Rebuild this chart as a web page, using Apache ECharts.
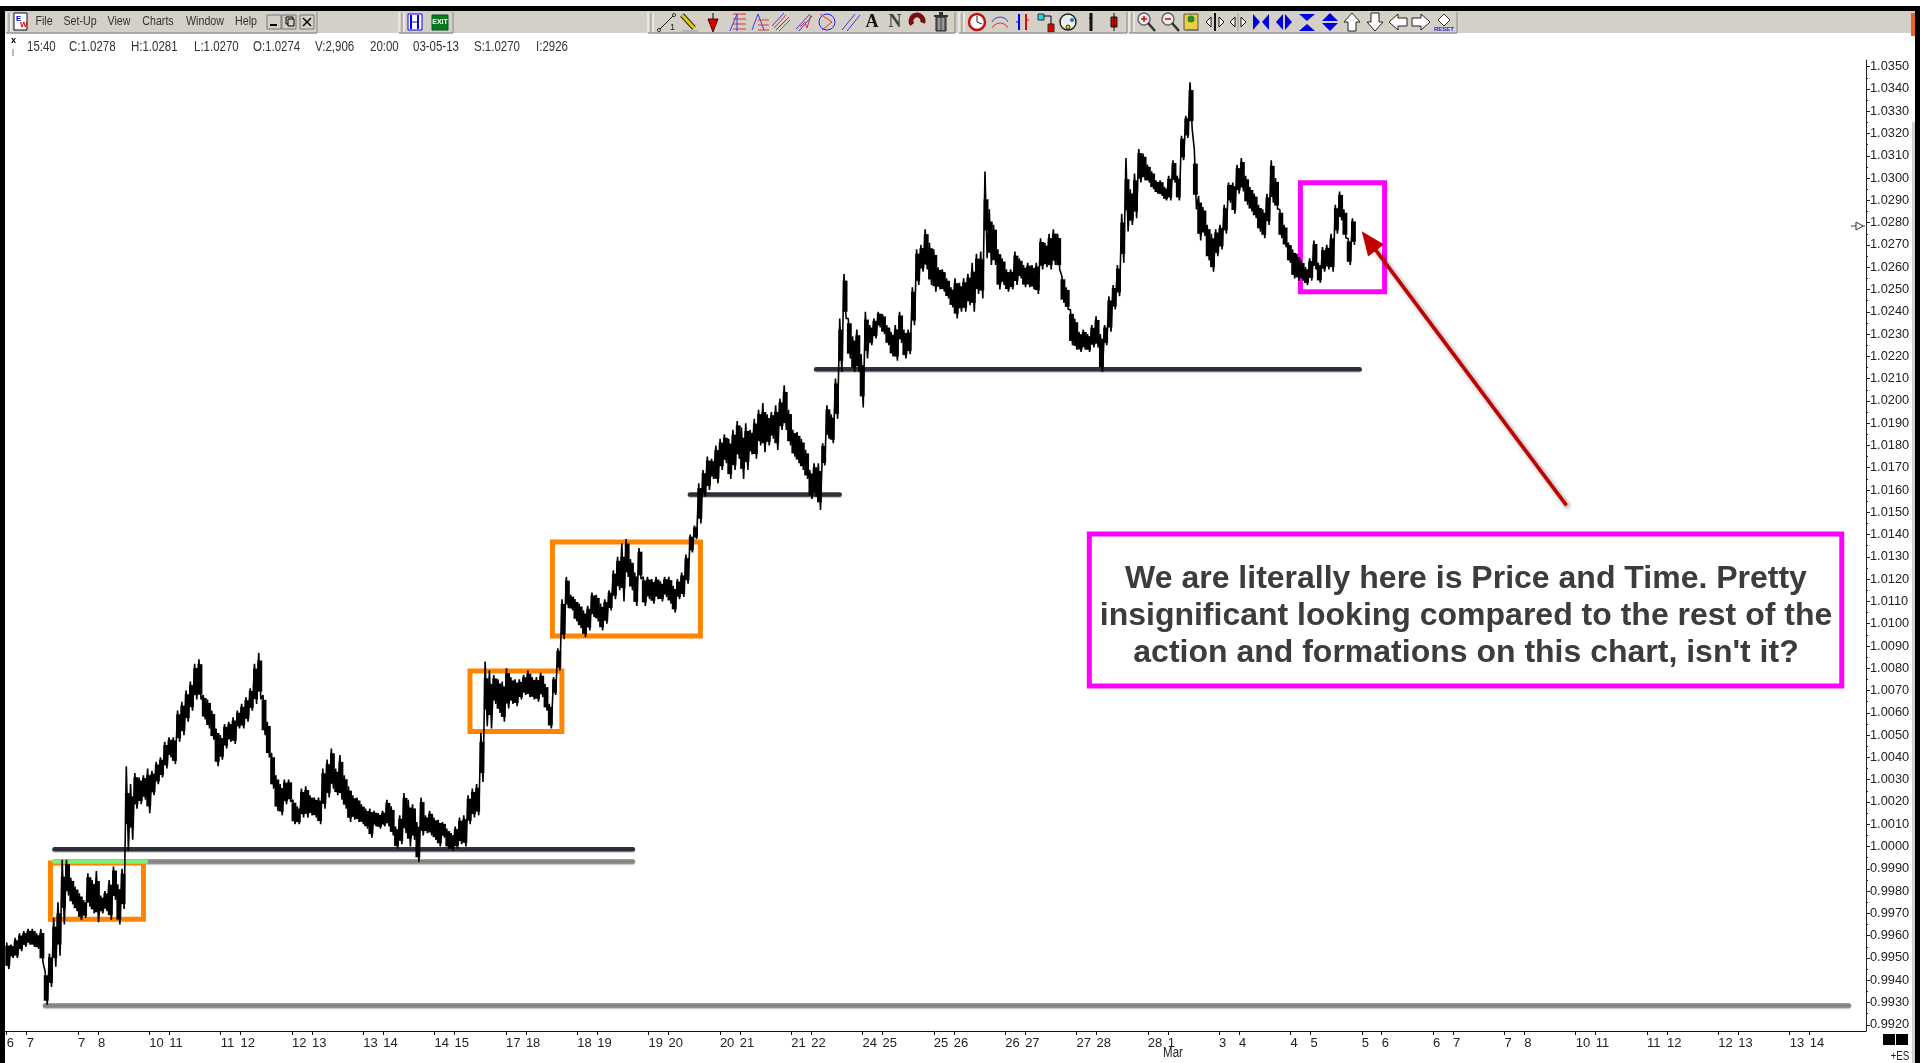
<!DOCTYPE html>
<html><head><meta charset="utf-8">
<style>html,body{margin:0;padding:0;background:#fff;overflow:hidden}#c{width:1920px;height:1063px}</style>
<script src="https://cdn.jsdelivr.net/npm/echarts@6/dist/echarts.min.js"></script>
</head><body><div id="c"></div>
<script>
// Time unit: trading days counted from the "7" tick; price in quote units.
const firstBarTime = -1.0;
const barStep = 0.0599;
const highs = [
.9957,.9956,.9959,.9961,.9962,.9963,.9963,.9961,.9963,.9944,
.9952,.9968,.9975,.9994,.9994,.9986,.9982,.9979,.9976,.9988,
.9985,.9989,.9978,.9980,.9985,.9991,.9983,.9990,1.0036,1.0028,
1.0033,1.0031,1.0032,1.0035,1.0034,1.0038,1.0040,1.0047,1.0049,1.0049,
1.0061,1.0065,1.0070,1.0074,1.0082,1.0084,1.0068,1.0066,1.0061,1.0053,
1.0050,1.0055,1.0056,1.0058,1.0061,1.0064,1.0067,1.0071,1.0082,1.0087,
1.0068,1.0056,1.0042,1.0032,1.0028,1.0030,1.0030,1.0021,1.0018,1.0026,
1.0027,1.0023,1.0022,1.0022,1.0035,1.0039,1.0044,1.0035,1.0041,1.0032,
1.0027,1.0023,1.0022,1.0019,1.0017,1.0017,1.0016,1.0015,1.0016,1.0021,
1.0018,1.0009,1.0014,1.0024,1.0021,1.0019,1.0011,1.0022,1.0014,1.0016,
1.0013,1.0012,1.0011,1.0008,1.0006,1.0009,1.0013,1.0014,1.0023,1.0026,
1.0028,1.0051,1.0083,1.0079,1.0077,1.0075,1.0074,1.0080,1.0076,1.0075,
1.0075,1.0077,1.0079,1.0076,1.0076,1.0078,1.0073,1.0064,1.0076,1.0089,
1.0111,1.0121,1.0113,1.0111,1.0109,1.0106,1.0108,1.0114,1.0113,1.0109,
1.0111,1.0115,1.0124,1.0130,1.0136,1.0138,1.0129,1.0123,1.0134,1.0121,
1.0121,1.0120,1.0121,1.0119,1.0121,1.0121,1.0117,1.0120,1.0123,1.0131,
1.0140,1.0144,1.0163,1.0169,1.0175,1.0174,1.0180,1.0183,1.0185,1.0183,
1.0187,1.0191,1.0188,1.0190,1.0187,1.0192,1.0196,1.0199,1.0194,1.0195,
1.0198,1.0201,1.0207,1.0196,1.0187,1.0186,1.0183,1.0178,1.0169,1.0172,
1.0172,1.0181,1.0198,1.0194,1.0210,1.0237,1.0257,1.0237,1.0229,1.0232,
1.0221,1.0240,1.0234,1.0237,1.0240,1.0239,1.0234,1.0231,1.0234,1.0240,
1.0232,1.0232,1.0251,1.0268,1.0270,1.0277,1.0271,1.0268,1.0260,1.0259,
1.0255,1.0251,1.0255,1.0253,1.0255,1.0257,1.0262,1.0266,1.0267,1.0303,
1.0286,1.0279,1.0268,1.0264,1.0259,1.0259,1.0267,1.0264,1.0261,1.0262,
1.0261,1.0262,1.0273,1.0271,1.0275,1.0277,1.0275,1.0256,1.0251,1.0241,
1.0237,1.0231,1.0232,1.0230,1.0234,1.0238,1.0230,1.0234,1.0247,1.0252,
1.0261,1.0284,1.0309,1.0295,1.0302,1.0313,1.0311,1.0306,1.0303,1.0299,
1.0299,1.0296,1.0301,1.0308,1.0301,1.0319,1.0328,1.0343,1.0313,1.0292,
1.0287,1.0279,1.0275,1.0277,1.0279,1.0288,1.0298,1.0298,1.0306,1.0309,
1.0301,1.0296,1.0293,1.0288,1.0286,1.0293,1.0308,1.0300,1.0286,1.0279,
1.0271,1.0268,1.0266,1.0263,1.0260,1.0264,1.0272,1.0262,1.0269,1.0270,
1.0275,1.0288,1.0294,1.0286,1.0273,1.0282];
const lows = [
.9945,.9950,.9950,.9953,.9955,.9956,.9955,.9954,.9948,.9929,
.9937,.9946,.9951,.9965,.9978,.9974,.9971,.9967,.9968,.9973,
.9970,.9966,.9970,.9971,.9967,.9976,.9965,.9972,.9998,1.0003,
1.0017,1.0019,1.0021,1.0015,1.0023,1.0028,1.0031,1.0035,1.0040,1.0037,
1.0047,1.0050,1.0056,1.0061,1.0066,1.0066,1.0057,1.0053,1.0048,1.0036,
1.0039,1.0044,1.0047,1.0046,1.0053,1.0053,1.0056,1.0061,1.0064,1.0066,
1.0050,1.0040,1.0026,1.0016,1.0014,1.0019,1.0020,1.0010,1.0010,1.0013,
1.0013,1.0014,1.0013,1.0010,1.0017,1.0022,1.0026,1.0023,1.0021,1.0017,
1.0011,1.0012,1.0011,1.0010,1.0008,1.0004,1.0009,1.0008,1.0009,1.0009,
1.0005,.9999,1.0001,1.0006,1.0000,1.0003,.9993,1.0005,1.0006,1.0005,
1.0003,1.0000,1.0004,.9999,.9998,.9999,1.0001,1.0000,1.0010,1.0013,
1.0014,1.0029,1.0054,1.0053,1.0064,1.0060,1.0056,1.0062,1.0064,1.0063,
1.0066,1.0068,1.0067,1.0066,1.0065,1.0067,1.0061,1.0053,1.0068,1.0079,
1.0093,1.0107,1.0106,1.0101,1.0098,1.0094,1.0097,1.0103,1.0101,1.0097,
1.0100,1.0106,1.0111,1.0115,1.0110,1.0121,1.0115,1.0108,1.0120,1.0108,
1.0111,1.0109,1.0111,1.0110,1.0112,1.0109,1.0105,1.0111,1.0112,1.0118,
1.0132,1.0138,1.0145,1.0157,1.0160,1.0165,1.0163,1.0169,1.0172,1.0165,
1.0169,1.0174,1.0165,1.0169,1.0176,1.0174,1.0180,1.0177,1.0180,1.0183,
1.0178,1.0187,1.0187,1.0180,1.0175,1.0172,1.0169,1.0165,1.0156,1.0157,
1.0151,1.0171,1.0183,1.0181,1.0192,1.0213,1.0237,1.0219,1.0213,1.0213,
1.0197,1.0219,1.0225,1.0228,1.0233,1.0230,1.0225,1.0220,1.0218,1.0226,
1.0219,1.0221,1.0234,1.0252,1.0258,1.0259,1.0252,1.0249,1.0250,1.0249,
1.0246,1.0242,1.0237,1.0240,1.0240,1.0243,1.0240,1.0248,1.0246,1.0264,
1.0261,1.0261,1.0250,1.0252,1.0249,1.0250,1.0252,1.0255,1.0251,1.0251,
1.0250,1.0248,1.0259,1.0260,1.0259,1.0261,1.0259,1.0244,1.0241,1.0225,
1.0223,1.0222,1.0223,1.0222,1.0224,1.0224,1.0213,1.0225,1.0231,1.0241,
1.0247,1.0262,1.0276,1.0279,1.0282,1.0298,1.0299,1.0298,1.0295,1.0293,
1.0292,1.0290,1.0290,1.0298,1.0290,1.0308,1.0318,1.0322,1.0286,1.0272,
1.0274,1.0263,1.0258,1.0265,1.0268,1.0275,1.0289,1.0284,1.0293,1.0294,
1.0288,1.0285,1.0282,1.0276,1.0273,1.0279,1.0289,1.0286,1.0273,1.0269,
1.0262,1.0255,1.0254,1.0254,1.0252,1.0254,1.0259,1.0253,1.0258,1.0259,
1.0258,1.0275,1.0281,1.0273,1.0261,1.0270];

const priceTicks = [1.0350,1.0340,1.0330,1.0320,1.0310,1.0300,1.0290,1.0280,1.0270,1.0260,1.0250,1.0240,1.0230,1.0220,1.0210,1.0200,1.0190,1.0180,1.0170,1.0160,1.0150,1.0140,1.0130,1.0120,1.0110,1.0100,1.0090,1.0080,1.0070,1.0060,1.0050,1.0040,1.0030,1.0020,1.0010,1.0000,0.9990,0.9980,0.9970,0.9960,0.9950,0.9940,0.9930,0.9920];
const timeTicks = [-1,-0.72,0,0.28,1,1.28,2,2.28,3,3.28,4,4.28,5,5.28,6,6.28,7,7.28,8,8.28,9,9.28,10,10.28,11,11.28,12,12.28,13,13.28,14,14.28,15,15.28,16,16.28,17,17.28,18,18.28,19,19.28,20,20.28,21,21.28,22,22.28,23,23.28,24,24.28];
const timeTickLabels = ['6','7','7','8','10','11','11','12','12','13','13','14','14','15','17','18','18','19','19','20','20','21','21','22','24','25','25','26','26','27','27','28','28','1','3','4','4','5','5','6','6','7','7','8','10','11','11','12','12','13','13','14'];

// [time start, time end, price]
const darkLevels = [[-0.33,7.78,0.99988],[10.35,17.97,1.02142],[8.58,10.68,1.01580]];
const grayLevels = [[-0.33,7.78,0.99933],[-0.463,24.83,0.99287]];
const greenLevel = [-0.33,0.953,0.99933];
// [time start, time end, price low, price high]
const orangeBoxes = [[-0.386,0.918,0.99674,0.99926],[5.496,6.785,1.00516,1.00788],[6.652,8.727,1.00945,1.01367]];
const magentaBoxes = [[17.14,18.32,1.02490,1.02979],[14.18,24.73,1.00720,1.01403]];
const arrowFrom = [20.87,1.01531];
const arrowTo = [18.10,1.02718];

const noteLines = ["We are literally here is Price and Time. Pretty","insignificant looking compared to the rest of the","action and formations on this chart, isn't it?"];
const quoteLine = [['15:40',27],['C:1.0278',69],['H:1.0281',131],['L:1.0270',194],['O:1.0274',253],['V:2,906',315],['20:00',370],['03-05-13',413],['S:1.0270',474],['I:2926',536]];
const menuItems = [['File',44],['Set-Up',80],['View',119],['Charts',158],['Window',205],['Help',246]];

const zig = [], cores = [];
highs.forEach((h,i)=>{
  const t=firstBarTime+i*barStep, l=lows[i], r=h-l;
  zig.push([t,h]); zig.push([t+barStep/2,l]);
  const mid=(h+l)/2, half=Math.min(r*0.38,0.0007);
  cores.push([t+barStep/4,mid-half,mid+half]);
});

const mids = priceTicks.slice(0,-1).map(p=>+(p-0.0005).toFixed(4));
const labelOf = new Map(timeTicks.map((t,i)=>[t,timeTickLabels[i]]));

const series = [];
const lineS = (data,color,w,z,shadow)=>series.push({type:'line',data,showSymbol:false,symbol:'none',silent:true,z,clip:false,animation:false,
  lineStyle:Object.assign({color,width:w,cap:'round',join:'miter'},shadow?{shadowColor:'rgba(0,0,0,.3)',shadowBlur:1,shadowOffsetY:1}:{})});
orangeBoxes.forEach(b=>lineS([[b[0],b[2]],[b[1],b[2]],[b[1],b[3]],[b[0],b[3]],[b[0],b[2]]],'#ff8400',5,3));
magentaBoxes.forEach(b=>lineS([[b[0],b[2]],[b[1],b[2]],[b[1],b[3]],[b[0],b[3]],[b[0],b[2]]],'#ff00ff',5,3));
series.forEach(s=>{s.lineStyle.cap='square';s.lineStyle.join='miter';});
grayLevels.forEach(l=>lineS([[l[0],l[2]],[l[1],l[2]]],'#858585',4.5,2,true));
lineS([[greenLevel[0],greenLevel[2]],[greenLevel[1],greenLevel[2]]],'#7df07a',4.5,4);
darkLevels.forEach(l=>lineS([[l[0],l[2]],[l[1],l[2]]],'#2d3038',4.5,4,true));
series.push({type:'custom',data:cores,silent:true,z:6,clip:false,animation:false,encode:{x:0,y:[1,2]},
  renderItem:(p,api)=>{
    const a=api.coord([api.value(0),api.value(2)]), b=api.coord([api.value(0),api.value(1)]);
    const w=api.size([barStep,0])[0]+0.6;
    return {type:'rect',shape:{x:a[0]-w/2,y:a[1],width:w,height:b[1]-a[1]},style:{fill:'#000'}};
  }});
series.push({type:'line',data:zig,showSymbol:false,symbol:'none',silent:true,z:6,animation:false,clip:false,
  lineStyle:{color:'#000',width:1.6,join:'bevel'}});
series.push({type:'line',data:[],silent:true,z:5,animation:false,
  markLine:{silent:true,animation:false,symbol:['none','triangle'],symbolSize:[20,24],label:{show:false},
    lineStyle:{color:'#c20000',width:3.5,type:'solid',shadowColor:'rgba(0,0,0,.45)',shadowBlur:4,shadowOffsetX:2,shadowOffsetY:2},
    data:[[{coord:arrowFrom},{coord:arrowTo}]]}});

// ---- window chrome -----
const g = [];
const R=(x,y,w,h,fill,stroke)=>g.push({type:'rect',shape:{x,y,width:w,height:h},style:{fill:fill||'none',stroke:stroke||null,lineWidth:1},silent:true,z:20});
const L=(x1,y1,x2,y2,c,w)=>g.push({type:'line',shape:{x1,y1,x2,y2},style:{stroke:c,lineWidth:w||1},silent:true,z:21});
const P=(pts,fill,stroke)=>g.push({type:'polygon',shape:{points:pts},style:{fill:fill,stroke:stroke||null,lineWidth:1},silent:true,z:21});
const C=(cx,cy,r,fill,stroke,w)=>g.push({type:'circle',shape:{cx,cy,r},style:{fill:fill||'none',stroke:stroke||null,lineWidth:w||1},silent:true,z:21});
const T=(text,x,y,font,fill,align,sx)=>g.push({type:'text',x,y,scaleX:sx||1,style:{text,font,fill,textAlign:align||'left',textVerticalAlign:'middle'},silent:true,z:22});
const UI='"Liberation Sans",Arial,sans-serif';
R(0,11,1920,22,'#d4d0c8');
R(0,6,1920,5,'#000');
R(0,6,5,1057,'#000');
R(1915,6,5,1057,'#000');
R(1912,122,3,941,'#d6ced6');
R(1911,13,4,23,'#e8622a');
[[6,317],[399,453],[648,955],[959,1127],[1129,1457]].forEach(p=>{
  L(p[0],12,p[0],33,'#fff',1);L(p[0],33,p[1],33,'#9a968e',1.5);L(p[1],12,p[1],33,'#8c887f',1);
  L(p[0]+3,13,p[0]+3,32,'#9a968e',1);L(p[0]+5,13,p[0]+5,32,'#fff',1);
});
R(14,13,13,17,'#fff','#111');T('E',16,19,'bold 8px Arial','#0000c0');T('W',20,25,'bold 8px Arial','#e00000');
menuItems.forEach(m=>T(m[0],m[1],21,'13px '+UI,'#333','center',0.82));
[274,289,307].forEach(x=>R(x-7,15,14,14,'#d4d0c8','#777'));
L(270,25,277,25,'#000',2);R(286,17,7,7,'none','#000');R(288,19,6,7,'#d4d0c8','#000');
L(303,18,311,26,'#000',1.5);L(311,18,303,26,'#000',1.5);
R(408,14,14,16,'#fff','#00f');L(411,15,411,29,'#00f',2);L(418,15,418,29,'#00f',2);L(411,22,418,22,'#00f',1);
R(432,15,16,15,'#0a7a1e','#053');T('EXIT',440,22.5,'bold 7px Arial','#fff','center');
L(659,30,674,15,'#222',1);C(659,30,1.5,'#fff','#222');C(674,15,1.5,'#fff','#222');T('1',670,28,'9px Arial','#222');
L(682,15,694,28,'#222',5);L(682,15,694,28,'#e8c800',3);L(682,31,698,31,'#999',1);
L(713,13,713,20,'#000',1);P([[708,19],[718,19],[713,32]],'#d80000','#500');
L(730,31,737,14,'#3a3af0',1);[14,19,24,29].forEach(y=>L(733,y,746,y,'#e83030',1));L(737,14,737,31,'#3a3af0',1);
L(752,30,758,14,'#3a3af0',1);L(758,14,764,30,'#3a3af0',1);[20,25,30].forEach(y=>L(758,y,769,y,'#e83030',1));
L(772,26,784,13,'#3a3af0',1);L(776,30,789,17,'#3a3af0',1);L(774,28,786,15,'#e83030',1);L(779,31,790,20,'#e83030',1);
L(796,29,810,14,'#3a3af0',1);L(799,31,812,16,'#3a3af0',1);L(800,27,805,22,'#e83030',1);L(805,22,807,28,'#e83030',1);L(807,28,811,15,'#e83030',1);
C(827,22,8,'none','#2020f0');L(820,14,832,22,'#e83030',1);L(832,22,822,30,'#e83030',1);
L(842,30,855,14,'#3a3af0',1);L(847,31,860,15,'#3a3af0',1);
T('A',872,22,'bold 18px "Liberation Serif",serif','#111','center');T('N',895,22,'bold 18px "Liberation Serif",serif','#444','center');
g.push({type:'arc',shape:{cx:917,cy:21,r:6,startAngle:Math.PI*.8,endAngle:Math.PI*.1,clockwise:true},style:{fill:'none',stroke:'#7a0e0e',lineWidth:5},silent:true,z:21});
R(936,17,10,14,'#666','#222');R(934,15,14,2,'#333');R(939,12,4,3,'#333');L(939,18,939,30,'#ccc');L(943,18,943,30,'#ccc');
C(977,22,8,'#fff','#c01010',2.5);L(977,22,977,16,'#223',1);L(977,22,982,24,'#223',1);
g.push({type:'arc',shape:{cx:1000,cy:26,r:9,startAngle:Math.PI*1.15,endAngle:Math.PI*1.85},style:{fill:'none',stroke:'#3a3af0',lineWidth:1},silent:true,z:21});
g.push({type:'arc',shape:{cx:1000,cy:32,r:9,startAngle:Math.PI*1.15,endAngle:Math.PI*1.85},style:{fill:'none',stroke:'#e83030',lineWidth:1},silent:true,z:21});
L(1019,14,1019,30,'#00f',2);L(1026,14,1026,30,'#e00',2);L(1016,22,1019,22,'#00f',1);L(1026,20,1029,20,'#e00',1);
R(1038,14,6,6,'#1cd8e0','#333');R(1048,24,6,8,'#e00000','#333');L(1044,16,1051,16,'#000',1);L(1051,16,1051,24,'#000',1);
C(1068,22,8,'#eee','#222',1.5);R(1064,17,4,4,'#d00');C(1072,20,2,'#08a');C(1068,27,2,'#dd0','#333');
L(1091,13,1091,31,'#111',3);L(1089,18,1091,18,'#111',1);
L(1114,13,1114,31,'#111',1);R(1111,17,6,10,'#e00000','#111');
[1146,1170].forEach((x,i)=>{C(x-2,19,6,'#eee','#666',1.5);L(x+2,23,x+9,31,'#333',2.5);L(x-5,19,x+1,19,'#d00',1.5);if(!i)L(x-2,16,x-2,22,'#d00',1.5);});
R(1184,14,14,16,'#e8d040','#555');C(1191,19,3.5,'#2a8a2a');L(1186,30,1199,30,'#666',1);
L(1215,13,1215,31,'#111',2);P([[1211,17],[1211,27],[1206,22]],'#fff','#111');P([[1219,17],[1219,27],[1224,22]],'#fff','#111');
L(1238,13,1238,31,'#999',1);P([[1235,17],[1235,27],[1230,22]],'#fff','#111');P([[1241,17],[1241,27],[1246,22]],'#fff','#111');
P([[1253,14],[1253,30],[1260,22]],'#0000e0');P([[1269,14],[1269,30],[1262,22]],'#0000e0');
P([[1283,14],[1283,30],[1276,22]],'#0000e0');P([[1285,14],[1285,30],[1292,22]],'#0000e0');
P([[1299,14],[1315,14],[1307,21]],'#0000e0');P([[1299,31],[1315,31],[1307,24]],'#0000e0');
P([[1322,21],[1338,21],[1330,13]],'#0000e0');P([[1322,23],[1338,23],[1330,31]],'#0000e0');
P([[1352,13],[1360,22],[1356,22],[1356,31],[1348,31],[1348,22],[1344,22]],'#fff','#222');
P([[1375,31],[1383,22],[1379,22],[1379,13],[1371,13],[1371,22],[1367,22]],'#fff','#222');
P([[1389,22],[1398,14],[1398,18],[1407,18],[1407,26],[1398,26],[1398,30]],'#fff','#222');
P([[1430,22],[1421,14],[1421,18],[1412,18],[1412,26],[1421,26],[1421,30]],'#fff','#222');
P([[1444,14],[1450,20],[1444,26],[1438,20]],'#fff','#333');T('RESET',1444,29,'bold 6px Arial','#1a1aff','center');
T('x',11,41,'bold 9px Arial','#000');L(13,49,13,56,'#777',1);
quoteLine.forEach(q=>T(q[0],q[1],47.5,'14px '+UI,'#333','left',0.82));
L(1851,226,1865,226,'#333',1);P([[1856,222],[1856,230],[1863,226]],'#fff','#333');
R(1883,1034,12,11,'#000');R(1896,1034,12,11,'#000');
T('+ES',1900,1057,'12px '+UI,'#222','center',0.82);
T('Mar',1173,1053,'14px '+UI,'#222','center',0.82);
noteLines.forEach((s,i)=>T(s,1466,579+i*37,'bold 32px '+UI,'#3c3c3c','center'));

const chart = echarts.init(document.getElementById('c'),null,{renderer:'canvas',width:1920,height:1063});
chart.setOption({
  animation:false,backgroundColor:'#fff',
  grid:{left:5,right:54,top:60,bottom:32,containLabel:false},
  tooltip:{show:false},legend:{show:false},
  xAxis:{type:'value',min:-1.0234,max:25.07,splitLine:{show:false},
    axisLine:{show:true,onZero:false,lineStyle:{color:'#111',width:1}},
    axisTick:{show:true,customValues:timeTicks,length:4,lineStyle:{color:'#111'}},
    axisLabel:{show:true,customValues:timeTicks,align:'left',margin:6,fontFamily:UI,fontSize:13,color:'#222',hideOverlap:false,
      formatter:v=>labelOf.get(v)||''}},
  yAxis:[
   {type:'value',position:'right',min:0.99172,max:1.0353,splitLine:{show:false},
    axisLine:{show:true,onZero:false,lineStyle:{color:'#222',width:1}},
    axisTick:{show:true,customValues:priceTicks,length:4,lineStyle:{color:'#222'}},
    axisLabel:{show:true,customValues:priceTicks,margin:4,fontFamily:UI,fontSize:12.8,color:'#222',hideOverlap:false,
      formatter:v=>v.toFixed(4)}},
   {type:'value',position:'right',min:0.99172,max:1.0353,splitLine:{show:false},
    axisLine:{show:false,onZero:false},
    axisTick:{show:true,customValues:mids,length:2,lineStyle:{color:'#222'}},
    axisLabel:{show:false}}],
  series,
  graphic:{elements:g}
});
</script></body></html>
